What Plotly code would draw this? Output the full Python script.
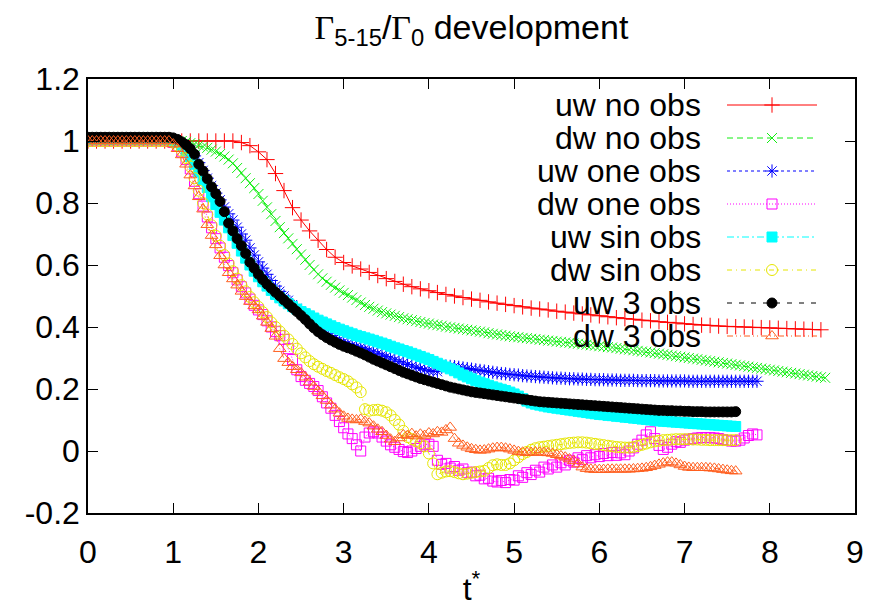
import plotly.graph_objects as go

# ---------------- data ----------------
STEP_RED = 0.1
STEP = 0.05

uw_no_obs = [
    1.0, 1.0, 1.0, 1.0, 1.0, 1.0, 1.0, 1.0, 1.0, 1.0,
    1.0, 1.0, 1.0, 1.0, 1.0, 1.0, 1.0, 1.0, 0.995, 0.985,
    0.965, 0.94, 0.895, 0.84, 0.785, 0.745, 0.71, 0.68, 0.65, 0.625,
    0.608, 0.597, 0.587, 0.576, 0.566, 0.556, 0.547, 0.538, 0.53, 0.523,
    0.517, 0.511, 0.505, 0.5, 0.495, 0.49, 0.486, 0.481, 0.477, 0.473,
    0.469, 0.465, 0.461, 0.458, 0.455, 0.451, 0.448, 0.445, 0.442, 0.439,
    0.436, 0.433, 0.43, 0.427, 0.425, 0.422, 0.42, 0.417, 0.415, 0.413,
    0.41, 0.408, 0.406, 0.405, 0.403, 0.402, 0.401, 0.4, 0.399, 0.398,
    0.397, 0.396, 0.395, 0.394, 0.393, 0.392, 0.391,
]

dw_no_obs = [
    1.0, 1.0, 1.0, 1.0, 1.0, 1.0, 1.0, 1.0, 1.0, 1.0, 1.0, 1.0, 1.0, 1.0, 1.0, 1.0, 1.0, 1.0, 1.0, 1.0,
    1.0, 1.0, 1.0, 0.997, 0.993, 0.99, 0.986, 0.982, 0.978, 0.972, 0.966, 0.958, 0.95, 0.94, 0.928, 0.913, 0.897, 0.88, 0.864, 0.848,
    0.829, 0.807, 0.786, 0.764, 0.742, 0.722, 0.703, 0.686, 0.668, 0.651, 0.634, 0.617, 0.6, 0.585, 0.57, 0.557, 0.546, 0.536, 0.527, 0.518,
    0.51, 0.503, 0.495, 0.487, 0.479, 0.471, 0.465, 0.459, 0.453, 0.448, 0.444, 0.44, 0.436, 0.432, 0.428, 0.425, 0.422, 0.419, 0.416, 0.413,
    0.411, 0.408, 0.406, 0.404, 0.401, 0.399, 0.397, 0.395, 0.393, 0.391, 0.389, 0.387, 0.385, 0.383, 0.38, 0.378, 0.376, 0.374, 0.372, 0.37,
    0.368, 0.367, 0.365, 0.364, 0.362, 0.361, 0.359, 0.358, 0.356, 0.355, 0.353, 0.352, 0.35, 0.349, 0.347, 0.346, 0.344, 0.343, 0.341, 0.34,
    0.338, 0.337, 0.335, 0.334, 0.332, 0.33, 0.328, 0.327, 0.325, 0.323, 0.321, 0.32, 0.318, 0.316, 0.314, 0.312, 0.31, 0.308, 0.306, 0.304,
    0.302, 0.3, 0.298, 0.296, 0.294, 0.292, 0.29, 0.288, 0.286, 0.284, 0.282, 0.28, 0.278, 0.276, 0.274, 0.272, 0.27, 0.268, 0.266, 0.264,
    0.262, 0.26, 0.258, 0.256, 0.254, 0.252, 0.25, 0.248, 0.246, 0.244, 0.242, 0.24, 0.238, 0.236,
]

uw_one_obs = [
    1.005, 1.005, 1.005, 1.005, 1.005, 1.005, 1.005, 1.005, 1.005, 1.005, 1.005, 1.005, 1.005, 1.005, 1.005, 1.005, 1.005, 1.005, 1.005, 1.005,
    1.003, 0.998, 0.99, 0.982, 0.97, 0.952, 0.93, 0.905, 0.88, 0.856, 0.832, 0.81, 0.787, 0.765, 0.745, 0.722, 0.7, 0.68, 0.655, 0.632,
    0.61, 0.59, 0.57, 0.55, 0.532, 0.515, 0.5, 0.486, 0.472, 0.46, 0.448, 0.436, 0.424, 0.412, 0.401, 0.39, 0.38, 0.372, 0.365, 0.358,
    0.352, 0.347, 0.342, 0.338, 0.334, 0.33, 0.325, 0.32, 0.315, 0.31, 0.305, 0.3, 0.294, 0.289, 0.284, 0.279, 0.274, 0.27, 0.266, 0.262,
    0.259, 0.257, 0.256, 0.27, 0.274, 0.273, 0.272, 0.27, 0.268, 0.266, 0.264, 0.262, 0.26, 0.258, 0.256, 0.254, 0.252, 0.25, 0.249, 0.247,
    0.246, 0.245, 0.243, 0.242, 0.241, 0.24, 0.239, 0.238, 0.237, 0.236, 0.235, 0.235, 0.234, 0.233, 0.233, 0.232, 0.232, 0.231, 0.231, 0.23,
    0.23, 0.23, 0.229, 0.229, 0.229, 0.228, 0.228, 0.228, 0.228, 0.227, 0.227, 0.227, 0.227, 0.227, 0.226, 0.226, 0.226, 0.226, 0.226, 0.226,
    0.226, 0.225, 0.225, 0.225, 0.225, 0.225, 0.225, 0.225, 0.225, 0.225, 0.225, 0.225, 0.225, 0.225, 0.225, 0.225, 0.225, 0.225,
]

dw_one_obs = [
    1.0, 1.0, 1.0, 1.0, 1.0, 1.0, 1.0, 1.0, 1.0, 1.0, 1.0, 1.0, 1.0, 1.0, 1.0, 1.0, 1.0, 1.0, 1.0, 1.0,
    0.995, 0.985, 0.965, 0.94, 0.91, 0.87, 0.83, 0.79, 0.755, 0.72, 0.685, 0.655, 0.625, 0.598, 0.575, 0.552, 0.53, 0.51, 0.49, 0.47,
    0.455, 0.44, 0.42, 0.4, 0.385, 0.372, 0.36, 0.33, 0.295, 0.262, 0.24, 0.228, 0.218, 0.208, 0.195, 0.175, 0.155, 0.138, 0.115, 0.095,
    0.075, 0.055, 0.04, 0.02, 0.0, 0.045, 0.058, 0.062, 0.058, 0.045, 0.032, 0.02, 0.012, 0.005, -0.002, -0.005, 0.0, 0.008, 0.015, 0.02,
    0.022, 0.015, -0.03, -0.043, -0.04, -0.055, -0.05, -0.062, -0.058, -0.07, -0.068, -0.08, -0.078, -0.09, -0.088, -0.097, -0.1, -0.095, -0.102, -0.092,
    -0.094, -0.08, -0.085, -0.07, -0.076, -0.062, -0.068, -0.052, -0.058, -0.045, -0.052, -0.038, -0.045, -0.03, -0.036, -0.022, -0.028, -0.015, -0.022, -0.012,
    -0.018, -0.008, -0.015, -0.005, -0.014, -0.006, -0.012, 0.0, 0.01, 0.022, 0.035, 0.052, 0.062, 0.04, 0.018, 0.005, 0.012, 0.022, 0.03, 0.028,
    0.035, 0.038, 0.04, 0.042, 0.043, 0.043, 0.043, 0.042, 0.04, 0.037, 0.034, 0.032, 0.032, 0.035, 0.042, 0.05, 0.055, 0.052,
]

uw_sin_obs = [
    1.005, 1.005, 1.005, 1.005, 1.005, 1.005, 1.005, 1.005, 1.005, 1.005, 1.005, 1.005, 1.005, 1.005, 1.005, 1.005, 1.005, 1.005, 1.005, 1.005,
    1.0, 0.995, 0.985, 0.97, 0.95, 0.925, 0.9, 0.875, 0.85, 0.82, 0.795, 0.77, 0.745, 0.72, 0.695, 0.67, 0.645, 0.622, 0.6, 0.58,
    0.562, 0.546, 0.532, 0.518, 0.505, 0.494, 0.484, 0.475, 0.466, 0.458, 0.45, 0.443, 0.436, 0.429, 0.422, 0.416, 0.41, 0.404, 0.398, 0.393,
    0.388, 0.383, 0.378, 0.373, 0.369, 0.365, 0.361, 0.357, 0.352, 0.348, 0.343, 0.338, 0.333, 0.329, 0.324, 0.32, 0.315, 0.31, 0.305, 0.3,
    0.295, 0.289, 0.283, 0.277, 0.271, 0.265, 0.259, 0.252, 0.245, 0.239, 0.233, 0.227, 0.222, 0.217, 0.212, 0.207, 0.203, 0.199, 0.195, 0.19,
    0.184, 0.177, 0.169, 0.161, 0.155, 0.151, 0.148, 0.145, 0.142, 0.14, 0.138, 0.136, 0.134, 0.132, 0.13, 0.128, 0.126, 0.124, 0.122, 0.12,
    0.118, 0.117, 0.115, 0.114, 0.112, 0.111, 0.109, 0.108, 0.106, 0.105, 0.103, 0.102, 0.1, 0.099, 0.097, 0.096, 0.095, 0.094, 0.093, 0.092,
    0.091, 0.09, 0.089, 0.088, 0.087, 0.086, 0.085, 0.084, 0.083, 0.082, 0.081, 0.08, 0.079,
]

dw_sin_obs = [
    1.0, 1.0, 1.0, 1.0, 1.0, 1.0, 1.0, 1.0, 1.0, 1.0, 1.0, 1.0, 1.0, 1.0, 1.0, 1.0, 1.0, 1.0, 1.0, 1.0,
    0.995, 0.985, 0.968, 0.945, 0.918, 0.88, 0.84, 0.8, 0.763, 0.728, 0.694, 0.662, 0.632, 0.605, 0.58, 0.556, 0.535, 0.515, 0.497, 0.48,
    0.465, 0.448, 0.432, 0.415, 0.4, 0.386, 0.372, 0.36, 0.345, 0.33, 0.315, 0.302, 0.29, 0.28, 0.272, 0.265, 0.258, 0.252, 0.245, 0.238,
    0.232, 0.225, 0.215, 0.205, 0.19, 0.135, 0.13, 0.132, 0.133, 0.13, 0.125, 0.115, 0.1, 0.085, 0.065, 0.045, 0.038, 0.032, 0.025, 0.015,
    -0.008, -0.04, -0.075, -0.07, -0.066, -0.065, -0.068, -0.072, -0.075, -0.073, -0.07, -0.068, -0.066, -0.064, -0.055, -0.046, -0.043, -0.045, -0.045, -0.04,
    -0.03, -0.02, -0.01, -0.003, 0.004, 0.009, 0.012, 0.014, 0.016, 0.018, 0.02, 0.022, 0.024, 0.026, 0.027, 0.028, 0.028, 0.027, 0.025, 0.023,
    0.021, 0.019, 0.017, 0.015, 0.013, 0.012, 0.011, 0.011, 0.013, 0.016, 0.02, 0.024, 0.028, 0.031, 0.033, 0.035, 0.036, 0.037, 0.038, 0.038,
    0.038, 0.038, 0.037, 0.037, 0.036, 0.036, 0.035, 0.035, 0.035, 0.035, 0.035, 0.035, 0.035,
]

uw_3_obs = [
    1.012, 1.012, 1.012, 1.012, 1.012, 1.012, 1.012, 1.012, 1.012, 1.012, 1.012, 1.012, 1.012, 1.012, 1.012, 1.012, 1.012, 1.012, 1.012, 1.012,
    1.01, 1.005, 0.997, 0.988, 0.975, 0.957, 0.925, 0.903, 0.878, 0.852, 0.83, 0.805, 0.772, 0.735, 0.71, 0.685, 0.662, 0.637, 0.609, 0.59,
    0.57, 0.553, 0.538, 0.525, 0.512, 0.5, 0.487, 0.475, 0.462, 0.45, 0.437, 0.424, 0.41, 0.397, 0.385, 0.375, 0.366, 0.358, 0.351, 0.344,
    0.338, 0.333, 0.328, 0.322, 0.316, 0.31, 0.303, 0.296, 0.29, 0.284, 0.278, 0.272, 0.266, 0.26, 0.254, 0.249, 0.244, 0.239, 0.234, 0.23,
    0.226, 0.222, 0.218, 0.214, 0.21, 0.206, 0.203, 0.2, 0.197, 0.194, 0.191, 0.189, 0.187, 0.185, 0.183, 0.181, 0.179, 0.177, 0.175, 0.173,
    0.171, 0.169, 0.167, 0.165, 0.163, 0.161, 0.159, 0.158, 0.157, 0.156, 0.155, 0.154, 0.153, 0.152, 0.151, 0.15, 0.149, 0.148, 0.147, 0.146,
    0.145, 0.144, 0.143, 0.142, 0.141, 0.14, 0.139, 0.138, 0.137, 0.136, 0.135, 0.134, 0.133, 0.132, 0.131, 0.131, 0.13, 0.13, 0.129, 0.129,
    0.128, 0.128, 0.127, 0.127, 0.127, 0.126, 0.126, 0.126, 0.126, 0.126, 0.126, 0.126, 0.127,
]

dw_3_obs = [
    1.0, 1.0, 1.0, 1.0, 1.0, 1.0, 1.0, 1.0, 1.0, 1.0, 1.0, 1.0, 1.0, 1.0, 1.0, 1.0, 1.0, 1.0, 1.0, 1.0,
    0.99, 0.975, 0.955, 0.925, 0.89, 0.855, 0.82, 0.78, 0.73, 0.695, 0.665, 0.63, 0.6, 0.575, 0.555, 0.535, 0.515, 0.498, 0.482, 0.468,
    0.455, 0.435, 0.415, 0.395, 0.37, 0.33, 0.298, 0.285, 0.272, 0.262, 0.252, 0.238, 0.222, 0.208, 0.193, 0.178, 0.163, 0.148, 0.135, 0.122,
    0.112, 0.105, 0.102, 0.1, 0.102, 0.095, 0.09, 0.08, 0.07, 0.062, 0.05, 0.038, 0.03, 0.042, 0.052, 0.05, 0.056, 0.048, 0.054, 0.05,
    0.058, 0.055, 0.062, 0.06, 0.068, 0.076, 0.04, 0.025, 0.018, 0.012, 0.007, 0.004, 0.002, 0.003, 0.006, 0.009, 0.011, 0.011, 0.009, 0.006,
    0.002, -0.002, -0.004, -0.005, -0.005, -0.004, -0.004, -0.005, -0.006, -0.008, -0.012, -0.016, -0.02, -0.026, -0.032, -0.042, -0.052, -0.057, -0.059, -0.06,
    -0.06, -0.06, -0.059, -0.059, -0.059, -0.059, -0.059, -0.059, -0.058, -0.057, -0.056, -0.054, -0.051, -0.047, -0.043, -0.039, -0.036, -0.036, -0.04, -0.045,
    -0.05, -0.053, -0.054, -0.054, -0.054, -0.054, -0.055, -0.056, -0.058, -0.06, -0.062, -0.064, -0.065,
]

SERIES_NAMES = ["uw no obs", "dw no obs", "uw one obs", "dw one obs",
                "uw sin obs", "dw sin obs", "uw 3 obs", "dw 3 obs"]
SERIES_VALUES = [uw_no_obs, dw_no_obs, uw_one_obs, dw_one_obs,
                 uw_sin_obs, dw_sin_obs, uw_3_obs, dw_3_obs]
SERIES_STEPS = [STEP_RED, STEP, STEP, STEP, STEP, STEP, STEP, STEP]

X_TICKS = [0, 1, 2, 3, 4, 5, 6, 7, 8, 9]
Y_TICKS = [-0.2, 0, 0.2, 0.4, 0.6, 0.8, 1.0, 1.2]
Y_TICK_TEXT = ["-0.2", "0", "0.2", "0.4", "0.6", "0.8", "1", "1.2"]

# ---------------- styles ----------------
STYLES = [
    dict(color="#ff0000", dash="solid", symbol="cross-thin", size=11),
    dict(color="#11ee11", dash="6px,4px", symbol="x-thin", size=10),
    dict(color="#0000ff", dash="3px,3px", symbol="asterisk", size=11),
    dict(color="#ff00ff", dash="1px,2px", symbol="square-open", size=10),
    dict(color="#00ffff", dash="7px,3px,2px,3px", symbol="square", size=10),
    dict(color="#e6e600", dash="5px,4px,1px,4px", symbol="circle-open", size=11),
    dict(color="#000000", dash="5px,7px", symbol="circle", size=10),
    dict(color="#ff5f1f", dash="6px,3px,1px,3px,1px,3px", symbol="triangle-up-open", size=11),
]

FONT = "Liberation Sans, Arial, sans-serif"
FS = 32

# plot area in pixels (for the hand-made gnuplot-style key)
PLOT_L, PLOT_R, PLOT_T, PLOT_B = 88, 855, 79, 513
KEY_TEXT_X = 703
KEY_LINE_X0, KEY_LINE_X1 = 727, 817
KEY_ROW0, KEY_DY = 105, 33

fig = go.Figure()

for name, vals, step, st in zip(SERIES_NAMES, SERIES_VALUES, SERIES_STEPS, STYLES):
    t = [round(i * step, 3) for i in range(len(vals))]
    fig.add_trace(go.Scatter(
        x=t, y=vals, mode="lines+markers", name=name, showlegend=False,
        line=dict(color=st["color"], width=1, dash=st["dash"]),
        marker=dict(symbol=st["symbol"], size=st["size"], color=st["color"],
                    line=dict(color=st["color"], width=1)),
    ))

# key: right-aligned text, sample line on the right (gnuplot style)
annotations = []
for i, (name, st) in enumerate(zip(SERIES_NAMES, STYLES)):
    yrow = KEY_ROW0 + i * KEY_DY
    fig.add_trace(go.Scatter(
        x=[KEY_LINE_X0, KEY_LINE_X1], y=[yrow, yrow], mode="lines",
        xaxis="x2", yaxis="y2", showlegend=False, hoverinfo="skip",
        line=dict(color=st["color"], width=1, dash=st["dash"]),
    ))
    fig.add_trace(go.Scatter(
        x=[(KEY_LINE_X0 + KEY_LINE_X1) / 2], y=[yrow], mode="markers",
        xaxis="x2", yaxis="y2", showlegend=False, hoverinfo="skip",
        marker=dict(symbol=st["symbol"], size=st["size"], color=st["color"],
                    line=dict(color=st["color"], width=1)),
    ))
    annotations.append(dict(
        x=KEY_TEXT_X, y=yrow, xref="x2", yref="y2", text=name, showarrow=False,
        xanchor="right", yanchor="middle",
        font=dict(family=FONT, size=FS, color="black"),
    ))

axis_common = dict(
    showline=True, linecolor="black", linewidth=1.5, mirror="allticks",
    ticks="inside", ticklen=10, tickwidth=1, tickcolor="black",
    showgrid=False, zeroline=False, automargin=False,
    tickfont=dict(family=FONT, size=FS, color="black"),
)

fig.update_layout(
    width=872, height=612, autosize=False,
    margin=dict(l=PLOT_L, r=872 - PLOT_R, t=PLOT_T, b=612 - PLOT_B),
    paper_bgcolor="white", plot_bgcolor="white",
    showlegend=False,
    title=dict(
        text=('<span style="font-family:Liberation Serif">Γ</span><sub>5-15</sub>/'
              '<span style="font-family:Liberation Serif">Γ</span><sub>0</sub> development'),
        x=0.5, xref="paper", y=1 - 27 / 612, yref="container", yanchor="middle",
        font=dict(family=FONT, size=34, color="black"),
    ),
    xaxis=dict(range=[0, 9], tickvals=X_TICKS, ticklabelstandoff=10,
               title=dict(text="t<sup>*</sup>", font=dict(family=FONT, size=FS, color="black"),
                          standoff=8),
               **axis_common),
    yaxis=dict(range=[-0.2, 1.2], tickvals=Y_TICKS, ticktext=Y_TICK_TEXT, **axis_common),
    xaxis2=dict(range=[PLOT_L, PLOT_R], overlaying="x", visible=False, anchor="y2"),
    yaxis2=dict(range=[PLOT_B, PLOT_T], overlaying="y", visible=False, anchor="x2"),
    annotations=annotations,
)

fig.write_html("out.html",
               config={"displayModeBar": False},
               post_script="document.body.style.margin='0';document.body.style.overflow='hidden';")
